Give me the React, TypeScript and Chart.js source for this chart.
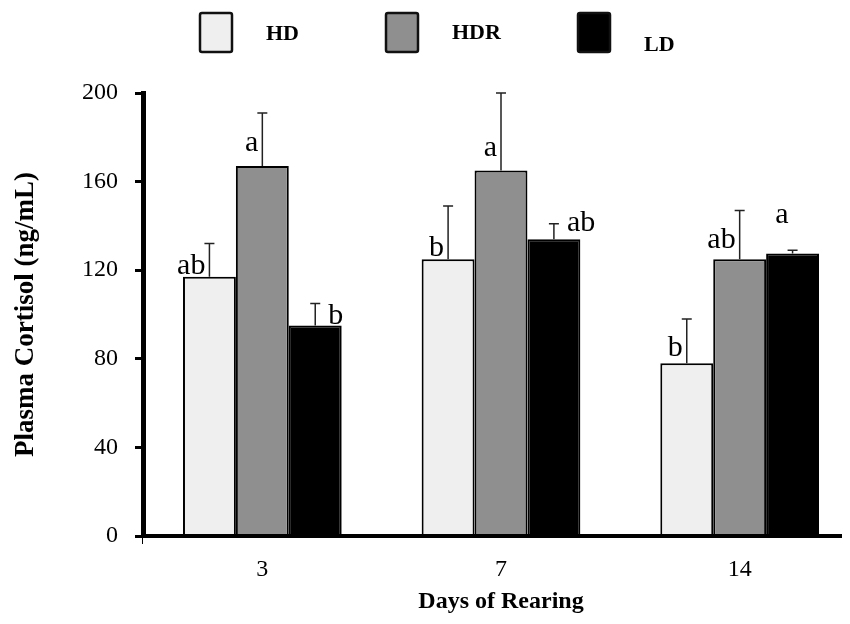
import React, { useEffect, useRef } from 'react';
import { Chart, registerables } from 'chart.js';

Chart.register(...registerables);

// Rearing days (x categories) and treatment groups
const DAYS = ['3', '7', '14'];
const SERIES = ['HD', 'HDR', 'LD'];

// Plasma cortisol means (ng/mL) and their standard errors
const HD_MEAN = [117, 125, 78];
const HD_SE = [15, 24, 20];
const HDR_MEAN = [167, 165, 125];
const HDR_SE = [24, 35, 22];
const LD_MEAN = [95, 134, 127.5];
const LD_SE = [10, 7, 1.5];

// Significance letters for each bar
const HD_LETTERS = ['ab', 'b', 'b'];
const HDR_LETTERS = ['a', 'a', 'ab'];
const LD_LETTERS = ['b', 'ab', 'a'];

const Y_TICKS = [0, 40, 80, 120, 160, 200];

const SERIF = "'Liberation Serif', 'Times New Roman', Times, serif";

const COLORS = ['#efefef', '#8f8f8f', '#000000'];

// where each significance letter sits relative to its error bar
const LETTER_PLACEMENT = [
  [{ side: 'left', dy: 3 }, { side: 'left', dy: 3 }, { side: 'left', dy: 7 }],
  [{ side: 'left', dy: 15 }, { side: 'left', dy: 15 }, { side: 'left', dy: 11 }],
  [{ side: 'right', dy: 2 }, { side: 'right', dy: 8 }, { side: 'left', dy: 31 }],
];

const errorBars = {
  id: 'errorBars',
  afterDatasetsDraw(chart: any, _args: any, opts: any) {
    const { ctx } = chart;
    const yScale = chart.scales.y;
    chart.data.datasets.forEach((ds: any, i: number) => {
      const meta = chart.getDatasetMeta(i);
      meta.data.forEach((bar: any, j: number) => {
        const v = ds.data[j];
        const e = ds.errors[j];
        const x = bar.x;
        const yBar = yScale.getPixelForValue(v);
        const yTop = yScale.getPixelForValue(v + e);
        ctx.save();
        ctx.strokeStyle = '#222';
        ctx.lineWidth = 1.5;
        ctx.beginPath();
        ctx.moveTo(x, yBar);
        ctx.lineTo(x, yTop);
        ctx.moveTo(x - opts.cap, yTop);
        ctx.lineTo(x + opts.cap, yTop);
        ctx.stroke();

        const place = LETTER_PLACEMENT[i][j];
        ctx.fillStyle = '#000';
        ctx.font = `30px ${SERIF}`;
        ctx.textBaseline = 'alphabetic';
        if (place.side === 'left') {
          ctx.textAlign = 'right';
          ctx.fillText(ds.letters[j], x - 4, yBar - place.dy);
        } else {
          ctx.textAlign = 'left';
          ctx.fillText(ds.letters[j], x + 13, yBar - place.dy);
        }
        ctx.restore();
      });
    });
  },
};

const legendRow = {
  id: 'legendRow',
  afterDraw(chart: any, _args: any, opts: any) {
    const { ctx } = chart;
    chart.data.datasets.forEach((ds: any, i: number) => {
      const p = opts.items[i];
      ctx.save();
      ctx.fillStyle = ds.backgroundColor;
      ctx.strokeStyle = '#111';
      ctx.lineWidth = 2.5;
      ctx.beginPath();
      if (ctx.roundRect) ctx.roundRect(p.x, p.y, opts.boxWidth, opts.boxHeight, 2);
      else ctx.rect(p.x, p.y, opts.boxWidth, opts.boxHeight);
      ctx.fill();
      ctx.stroke();
      ctx.fillStyle = '#000';
      ctx.font = `bold 22px ${SERIF}`;
      ctx.textAlign = 'left';
      ctx.textBaseline = 'middle';
      ctx.fillText(ds.label, p.x + opts.boxWidth + opts.gap, p.y + opts.boxHeight / 2 + p.dy);
      ctx.restore();
    });
  },
};

export default function App() {
  const canvasRef = useRef<HTMLCanvasElement>(null);

  useEffect(() => {
    const canvas = canvasRef.current;
    if (!canvas) return;
    const means = [HD_MEAN, HDR_MEAN, LD_MEAN];
    const ses = [HD_SE, HDR_SE, LD_SE];
    const letters = [HD_LETTERS, HDR_LETTERS, LD_LETTERS];

    const chart = new Chart(canvas, {
      type: 'bar',
      data: {
        labels: DAYS,
        datasets: SERIES.map((name, i) => ({
          label: name,
          data: means[i],
          errors: ses[i],
          letters: letters[i],
          backgroundColor: COLORS[i],
          borderColor: '#000',
          borderWidth: 2,
          categoryPercentage: 0.665,
          barPercentage: 1,
        })) as any,
      },
      options: {
        responsive: false,
        animation: false,
        devicePixelRatio: 1,
        layout: { padding: { top: 85, right: 9, left: 0, bottom: 0 } },
        plugins: {
          legend: { display: false },
          tooltip: { enabled: false },
          errorBars: { cap: 5 },
          legendRow: {
            boxWidth: 32,
            boxHeight: 39,
            gap: 34,
            items: [
              { x: 192, y: 5, dy: 1.5 },
              { x: 378, y: 5, dy: 0.5 },
              { x: 570, y: 5, dy: 12.5 },
            ],
          },
        } as any,
        scales: {
          x: {
            type: 'category',
            offset: true,
            grid: {
              display: true,
              drawOnChartArea: false,
              offset: true,
              tickLength: 8,
              lineWidth: 1,
              color: (c: any) => (c.index === 0 ? '#000' : 'rgba(0,0,0,0)'),
            },
            border: { display: true, color: '#000', width: 4, z: 1 },
            ticks: { color: '#000', font: { family: SERIF, size: 24 }, padding: 11 },
            title: {
              display: true,
              text: 'Days of Rearing',
              color: '#000',
              font: { family: SERIF, size: 24, weight: 'bold' },
              padding: 0,
            },
            afterFit: (s: any) => {
              s.height = 80;
            },
          },
          y: {
            min: 0,
            max: 200,
            afterBuildTicks: (s: any) => {
              s.ticks = Y_TICKS.map((value) => ({ value }));
            },
            grid: { drawOnChartArea: false, tickLength: 8, tickWidth: 3, color: '#000' },
            border: { display: true, color: '#000', width: 5, z: 1 },
            ticks: { color: '#000', font: { family: SERIF, size: 24 }, padding: 17 },
            title: {
              display: true,
              text: 'Plasma Cortisol (ng/mL)',
              color: '#000',
              font: { family: SERIF, size: 27, weight: 'bold' },
              padding: { top: 2, bottom: 0 },
            },
            afterFit: (s: any) => {
              s.width = 135;
            },
          },
        },
      } as any,
      plugins: [errorBars, legendRow],
    });

    return () => chart.destroy();
  }, []);

  return (
    <div style={{ width: 842, height: 608, overflow: 'hidden', background: '#fff' }}>
      <canvas ref={canvasRef} width={860} height={608} style={{ display: 'block' }} />
    </div>
  );
}
